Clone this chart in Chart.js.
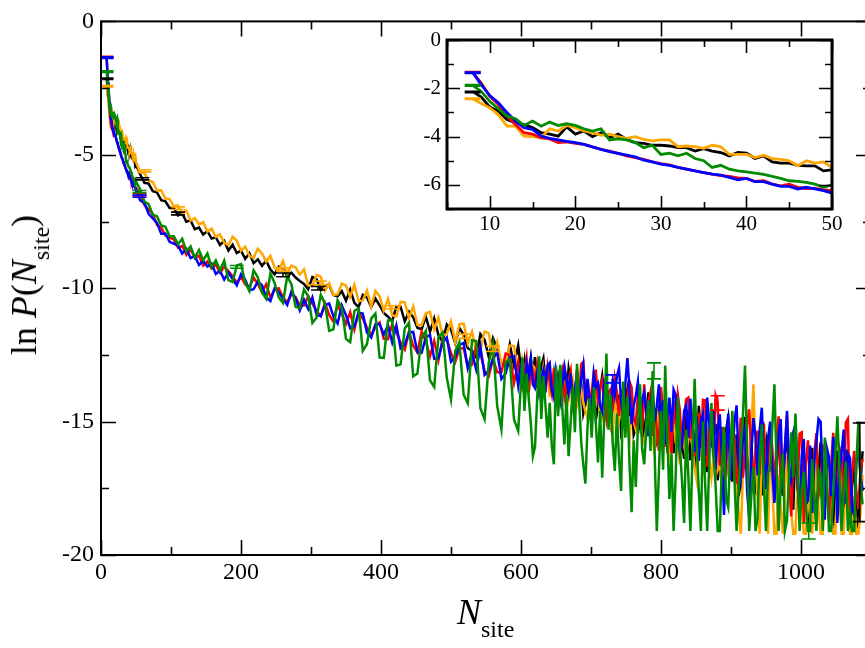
<!DOCTYPE html>
<html><head><meta charset="utf-8">
<script src="https://cdn.jsdelivr.net/npm/chart.js@4.4.0/dist/chart.umd.min.js"></script>
<style>
html,body{margin:0;padding:0;background:#fff;overflow:hidden;width:865px;height:648px;}
#wrap{position:relative;width:865px;height:648px;overflow:hidden;background:#fff;}
#main{position:absolute;left:0;top:0;}
#inset{position:absolute;left:380px;top:20px;}
.lbl{position:absolute;font-family:'Liberation Serif','Times New Roman',serif;font-size:36px;line-height:36px;color:#000;white-space:nowrap;}
.sub{font-size:24px;position:relative;top:13px;}
</style></head>
<body><div id="wrap">
<canvas id="main" width="880" height="648"></canvas>
<canvas id="inset" width="470" height="230"></canvas>
<div class="lbl" id="xt" style="left:457px;top:594px;"><i>N</i><span class="sub">site</span></div>
<div class="lbl" id="yt" style="left:26px;top:285px;transform:translate(-50%,-50%) rotate(-90deg);">ln <i>P</i>(<i>N</i><span class="sub">site</span>)</div>
</div>
<script>
// ---- data: N_site values and ln P(N_site) for each series ----
const nVals = [
8,9,10,11,12,13,14,15,16,17,18,19,20,21,22,23,24,25,26,27,28,29,30,31,32,33,34,35,36,37,38,39,40,41,42,43,44,45,46,47,48,49,50,
56,62,68,74,80,86,92,98,104,110,
116,122,128,134,140,146,152,158,164,170,
176,182,188,194,200,206,212,218,224,230,
236,242,248,254,260,266,272,278,284,290,
296,302,308,314,320,326,332,338,344,350,
356,362,368,374,380,386,392,398,404,410,
416,422,428,434,440,446,452,458,464,470,
476,482,488,494,500,506,512,518,524,530,
536,542,548,554,560,566,572,578,584,590,
596,599,602,605,608,611,614,617,620,623,626,629,632,635,638,641,644,647,650,653,
656,659,662,665,668,671,674,677,680,683,686,689,692,695,698,701,704,707,710,713,
716,719,722,725,728,731,734,737,740,743,746,749,752,755,758,761,764,767,770,773,
776,779,782,785,788,791,794,797,800,803,806,809,812,815,818,821,824,827,830,833,
836,839,842,845,848,851,854,857,860,863,866,869,872,875,878,881,884,887,890,893,
896,899,902,905,908,911,914,917,920,923,926,929,932,935,938,941,944,947,950,953,
956,959,962,965,968,971,974,977,980,983,986,989,992,995,998,1001,1004,1007,1010,1013,
1016,1019,1022,1025,1028,1031,1034,1037,1040,1043,1046,1049,1052,1055,1058,1061,1064,1067,1070,1073,
1076,1079,1082,1085,1088];

const redVals = [
-1.34,-1.78,-2.33,-2.67,-3.15,-3.5,-3.84,-3.9,-4.05,-4.1,
-4.25,-4.22,-4.28,-4.32,-4.43,-4.53,-4.6,-4.7,-4.8,-4.87,
-4.94,-5.05,-5.12,-5.17,-5.28,-5.35,-5.42,-5.49,-5.56,-5.62,
-5.65,-5.71,-5.73,-5.86,-5.83,-5.97,-6.04,-5.97,-6.1,-6.15,
-6.15,-6.2,-6.24,
-6.47,-6.88,-7.05,-7.22,-7.63,-7.72,-8.03,-8.1,-8.17,-8.48,
-8.41,-8.75,-8.55,-8.86,-8.78,-9.15,-9.0,-9.26,-9.1,-9.42,
-9.2,-9.36,-9.55,-9.8,-9.57,-9.86,-9.97,-9.6,-9.84,-10.15,
-9.85,-10.35,-10.05,-10.0,-10.35,-10.53,-10.23,-10.33,-10.65,-10.65,
-10.3,-10.58,-10.86,-11.05,-10.56,-11.0,-11.25,-10.63,-10.96,-11.34,
-10.9,-11.55,-10.9,-11.14,-11.48,-11.77,-11.43,-11.29,-11.9,-11.91,
-11.35,-11.65,-12.04,-12.3,-11.63,-12.16,-12.41,-11.64,-11.98,-12.55,
-11.98,-12.7,-11.9,-11.9,-12.44,-12.76,-12.27,-12.24,-12.95,-12.87,
-12.15,-12.45,-13.1,-13.3,-12.65,-13.15,-13.15,-12.45,-12.5,-13.55,
-12.77,-13.4,-13.7,-13.2,-12.65,-13.9,-12.86,-13.1,-13.53,-12.9,-13.8,-13.3,-13.13,-13.9,-12.96,-13.5,-13.95,-13.0,-13.67,-14.1,
-13.22,-13.0,-14.06,-13.6,-13.45,-13.1,-14.35,-14.0,-13.18,-14.3,-12.84,-12.76,-14.19,-13.5,-14.44,-13.9,-13.12,-13.1,-14.34,-13.7,
-13.44,-14.2,-14.85,-13.9,-13.78,-14.6,-13.4,-13.9,-14.79,-13.8,-14.73,-15.2,-14.14,-13.5,-13.71,-14.9,-15.1,-14.0,-14.72,-15.3,
-13.6,-14.9,-14.3,-13.9,-15.55,-14.5,-15.25,-16.1,-13.7,-14.8,-15.95,-14.4,-15.35,-16.2,-14.2,-15.1,-14.0,-14.6,-15.95,-14.9,
-14.16,-14.1,-15.65,-15.0,-16.3,-15.4,-14.67,-16.0,-14.18,-14.2,-16.69,-15.3,-14.94,-16.2,-14.03,-14.3,-16.65,-15.2,-16.22,-17.0,
-14.85,-15.6,-16.72,-15.5,-17.33,-16.0,-14.86,-17.1,-16.17,-15.1,-14.54,-16.4,-17.25,-16.1,-15.34,-17.0,-14.97,-15.1,-17.26,-16.3,
-15.15,-16.0,-17.6,-15.7,-14.8,-17.2,-16.8,-15.9,-14.75,-17.0,-18.55,-16.4,-15.85,-17.6,-15.45,-15.4,-18.8,-16.6,-15.7,-17.3,
-18.1,-16.2,-15.43,-17.8,-17.4,-15.9,-15.96,-17.5,-18.73,-16.7,-15.42,-17.3,-17.71,-16.0,-16.32,-18.2,-15.04,-14.9,-18.77,-16.9,
-16.1,-17.6,-18.25,-16.8,-16.4];

const blueVals = [
-1.34,-1.85,-2.3,-2.6,-3.0,-3.36,-3.63,-3.7,-3.98,-4.07,
-4.14,-4.2,-4.25,-4.32,-4.43,-4.53,-4.62,-4.7,-4.77,-4.84,
-4.98,-5.05,-5.14,-5.19,-5.28,-5.35,-5.42,-5.49,-5.56,-5.6,
-5.69,-5.79,-5.73,-5.87,-5.87,-5.97,-6.06,-6.06,-6.17,-6.1,
-6.17,-6.24,-6.34,
-6.71,-6.8,-7.21,-7.38,-7.55,-7.96,-7.95,-8.26,-8.33,-8.4,
-8.7,-8.53,-8.87,-8.8,-9.13,-8.98,-9.19,-9.08,-9.47,-9.34,
-9.68,-9.41,-9.66,-9.89,-9.48,-9.68,-10.08,-10.04,-9.75,-9.89,
-10.35,-10.48,-10.0,-10.15,-10.4,-10.63,-10.13,-10.38,-10.83,-10.43,
-10.78,-10.35,-11.0,-11.04,-10.63,-10.58,-11.05,-11.32,-10.65,-11.01,
-11.5,-11.43,-10.92,-10.95,-11.67,-11.85,-11.35,-11.34,-11.74,-11.39,
-12.03,-11.4,-12.25,-12.11,-11.66,-11.64,-12.4,-12.42,-11.85,-11.75,
-12.65,-12.62,-12.03,-11.85,-12.76,-12.59,-12.13,-12.05,-13.0,-12.42,
-13.05,-12.2,-13.25,-13.1,-12.65,-12.4,-13.4,-13.2,-12.6,-12.55,
-13.65,-13.0,-13.48,-13.9,-12.82,-13.3,-12.7,-13.6,-13.74,-13.2,-13.9,-13.4,-13.08,-13.7,-12.9,-12.8,-13.78,-14.1,-13.06,-13.5,
-14.14,-13.6,-12.95,-13.4,-13.91,-13.2,-14.35,-13.7,-13.25,-14.0,-13.43,-12.9,-14.26,-13.4,-14.23,-14.6,-13.2,-13.7,-13.56,-14.4,
-14.64,-13.5,-13.65,-14.3,-14.9,-13.4,-13.99,-13.3,-13.0,-14.2,-14.97,-13.6,-12.62,-13.8,-15.1,-14.4,-14.03,-13.5,-14.96,-14.2,
-13.9,-14.6,-15.55,-14.3,-13.8,-15.0,-14.4,-13.6,-15.15,-14.2,-15.85,-14.8,-14.1,-15.4,-13.8,-14.0,-15.45,-16.2,-15.85,-14.6,
-14.4,-15.6,-14.14,-15.2,-16.13,-14.8,-16.47,-15.0,-14.72,-16.3,-14.1,-15.1,-15.97,-14.6,-16.79,-15.3,-14.73,-16.4,-18.5,-16.0,
-14.71,-17.2,-16.3,-15.0,-14.39,-16.6,-17.1,-15.4,-15.19,-17.6,-18.6,-16.2,-14.87,-15.5,-17.02,-15.3,-14.48,-16.5,-17.54,-15.6,
-15.0,-16.8,-18.05,-16.4,-15.55,-14.9,-17.55,-16.1,-14.6,-16.9,-17.2,-15.4,-15.1,-17.0,-18.75,-16.3,-15.65,-18.1,-17.95,-15.9,
-18.42,-16.5,-15.75,-14.9,-15.0,-17.1,-18.68,-16.0,-16.33,-17.8,-15.58,-16.4,-18.8,-16.9,-16.16,-15.3,-18.08,-16.2,-16.37,-18.3,
-18.5,-16.6,-15.9,-17.0,-17.6];

const greenVals = [
-1.88,-2.13,-2.54,-2.85,-3.15,-3.26,-3.54,-3.36,-3.57,-3.4,
-3.54,-3.47,-3.54,-3.68,-3.77,-3.68,-4.14,-4.09,-4.14,-4.25,
-4.46,-4.36,-4.74,-4.69,-4.8,-4.69,-4.91,-5.0,-5.28,-5.19,
-5.35,-5.42,-5.46,-5.51,-5.57,-5.65,-5.73,-5.83,-5.86,-5.9,
-5.97,-6.1,-6.0,
-6.3,-6.75,-6.85,-7.25,-7.3,-7.65,-7.7,-8.05,-8.05,-8.35,
-8.15,-8.61,-8.43,-8.85,-8.57,-8.95,-8.7,-9.2,-8.96,-9.33,
-8.97,-9.7,-9.77,-9.15,-9.1,-9.79,-10.1,-9.33,-9.59,-10.16,
-10.4,-9.45,-9.8,-10.35,-10.55,-9.55,-9.85,-10.7,-10.75,-10.05,
-10.3,-11.3,-11.1,-10.25,-10.59,-11.6,-11.54,-10.45,-10.75,-11.9,
-12.02,-10.85,-10.75,-12.35,-12.09,-11.14,-10.95,-12.6,-12.61,-11.21,
-11.2,-12.9,-12.85,-11.5,-11.3,-13.3,-13.2,-11.85,-11.6,-13.45,
-13.7,-11.84,-11.66,-13.36,-14.17,-12.36,-12.02,-13.99,-14.31,-11.95,
-11.98,-14.5,-14.91,-12.78,-12.1,-14.41,-15.29,-12.77,-12.66,-14.92,
-15.35,-14.0,-12.6,-14.6,-13.2,-14.1,-15.05,-16.3,-15.95,-14.2,-12.55,-14.9,-13.3,-14.4,-15.6,-14.3,-15.9,-16.6,-12.95,-14.8,
-12.87,-14.5,-15.86,-14.0,-16.3,-15.0,-13.7,-15.4,-12.83,-14.2,-15.77,-16.6,-17.32,-15.2,-14.12,-15.6,-13.71,-15.1,-16.53,-14.6,
-17.1,-14.8,-12.45,-15.3,-14.0,-15.8,-16.85,-14.7,-16.4,-17.6,-13.5,-15.6,-14.05,-16.6,-18.4,-15.7,-17.45,-15.2,-13.6,-16.0,
-16.6,-15.3,-14.2,-16.1,-13.1,-16.3,-19.1,-16.9,-14.6,-16.8,-12.9,-15.5,-17.9,-16.2,-19.1,-17.0,-14.1,-16.0,-17.2,-18.8,
-15.3,-17.0,-19.1,-16.2,-13.4,-15.8,-17.6,-19.1,-15.0,-17.3,-19.1,-16.4,-14.3,-16.2,-17.4,-19.1,-19.1,-16.6,-15.2,-17.9,
-18.2,-16.1,-14.6,-17.2,-19.1,-17.5,-16.0,-14.8,-12.9,-15.9,-19.1,-17.8,-16.7,-19.1,-18.6,-16.3,-15.1,-17.4,-19.1,-16.9,
-16.8,-15.2,-13.6,-16.5,-19.1,-17.3,-16.2,-19.1,-18.7,-16.9,-15.4,-17.1,-14.7,-16.6,-19.1,-17.5,-16.9,-18.2,-19.1,-19.1,
-16.4,-17.9,-19.1,-16.8,-17.0,-19.1,-15.6,-17.2,-19.1,-19.1,-17.8,-16.3,-14.8,-16.9,-19.1,-17.7,-16.5,-19.1,-18.4,-19.1,
-19.1,-16.6,-15.0,-17.3,-18.1];

const blackVals = [
-2.13,-2.36,-2.77,-2.95,-3.29,-3.43,-3.5,-3.63,-3.84,-3.9,
-3.98,-3.6,-3.9,-3.77,-4.0,-3.84,-4.05,-3.9,-4.12,-4.25,
-4.28,-4.36,-4.36,-4.39,-4.46,-4.46,-4.6,-4.5,-4.6,-4.66,
-4.8,-4.66,-4.69,-4.91,-4.8,-5.05,-5.1,-5.1,-5.19,-5.21,
-5.21,-5.42,-5.38,
-5.73,-6.05,-6.08,-6.36,-6.41,-6.7,-6.74,-6.99,-6.99,-7.27,
-7.2,-7.51,-7.46,-7.79,-7.73,-7.99,-7.86,-8.14,-8.09,-8.38,
-8.23,-8.59,-8.37,-8.68,-8.59,-8.9,-8.69,-9.06,-8.92,-9.16,
-8.97,-9.3,-9.48,-9.19,-9.27,-9.55,-9.42,-9.6,-9.73,-9.84,
-10.04,-9.58,-9.66,-10.07,-9.89,-9.88,-10.25,-10.3,-10.11,-10.47,
-10.05,-10.55,-10.71,-10.25,-10.35,-10.71,-10.39,-10.64,-10.93,-11.07,
-11.24,-10.67,-10.7,-11.24,-10.88,-11.09,-11.48,-11.54,-11.06,-11.63,
-11.13,-11.75,-12.01,-11.36,-11.55,-12.06,-11.49,-11.75,-12.25,-12.34,
-12.59,-11.72,-11.93,-12.58,-11.87,-12.26,-12.83,-12.91,-12.11,-12.89,
-12.15,-12.8,-13.22,-12.7,-13.49,-13.1,-12.59,-13.3,-12.58,-13.6,-13.43,-12.9,-12.63,-13.5,-13.01,-13.7,-13.81,-13.2,-13.92,-13.4,
-14.2,-13.6,-13.05,-14.0,-13.02,-13.5,-13.99,-14.4,-13.07,-13.8,-13.57,-14.7,-14.36,-13.6,-14.53,-14.1,-13.55,-14.9,-14.46,-13.8,
-13.3,-14.2,-14.79,-14.3,-15.06,-14.5,-13.72,-14.6,-14.0,-15.4,-15.09,-14.2,-13.79,-14.8,-14.14,-15.5,-15.28,-14.6,-15.16,-14.3,
-15.75,-14.8,-13.9,-15.0,-14.3,-16.0,-15.76,-14.6,-13.92,-15.2,-14.33,-15.9,-15.57,-14.8,-16.18,-15.2,-14.74,-15.7,-15.8,-16.4,
-14.53,-15.6,-16.45,-15.3,-16.34,-17.0,-14.41,-15.5,-14.97,-16.2,-16.89,-15.4,-14.53,-16.6,-15.08,-17.2,-16.45,-15.7,-16.9,-15.3,
-14.86,-16.3,-17.25,-16.0,-15.48,-17.8,-17.23,-16.1,-14.82,-16.5,-16.95,-15.7,-17.4,-17.6,-15.37,-16.4,-17.77,-16.2,-15.75,-17.3,
-15.24,-16.6,-17.95,-16.3,-15.76,-17.0,-17.78,-16.4,-15.32,-16.8,-17.61,-18.3,-15.85,-17.1,-18.49,-16.9,-16.24,-17.5,-18.82,-17.2,
-15.98,-17.4,-18.54,-16.9,-15.78,-17.6,-18.06,-16.5,-16.56,-18.0,-18.98,-17.3,-16.09,-17.8,-18.52,-16.8,-16.05,-17.9,-19.04,-17.4,
-16.57,-18.2,-19.0,-17.3,-16.11];

const orangeVals = [
-2.43,-2.63,-2.81,-3.09,-3.57,-3.57,-3.98,-4.0,-4.05,-3.68,
-3.77,-3.54,-3.63,-3.77,-3.84,-3.95,-3.9,-4.0,-4.07,-4.0,
-4.12,-4.18,-4.14,-4.14,-4.42,-4.39,-4.42,-4.49,-4.36,-4.42,
-4.74,-4.74,-4.74,-4.87,-4.77,-4.91,-4.94,-5.0,-5.21,-5.0,
-5.1,-5.05,-5.28,
-5.66,-5.68,-5.97,-6.02,-6.34,-6.33,-6.64,-6.66,-6.92,-6.9,
-7.2,-7.09,-7.47,-7.37,-7.61,-7.53,-7.88,-7.77,-8.08,-7.98,
-8.3,-8.39,-8.07,-8.21,-8.6,-8.44,-8.79,-8.86,-8.52,-8.7,
-9.01,-8.79,-9.22,-9.34,-8.98,-9.48,-9.15,-9.22,-9.49,-9.3,
-9.89,-9.91,-9.5,-9.57,-10.1,-9.82,-10.25,-10.23,-9.82,-9.9,
-10.32,-9.87,-10.48,-10.46,-10.09,-10.69,-10.1,-10.3,-10.84,-10.4,
-11.01,-11.06,-10.51,-10.53,-11.12,-10.68,-11.37,-11.39,-10.94,-10.89,
-11.55,-11.1,-11.78,-11.71,-11.25,-12.02,-11.35,-11.32,-12.06,-11.63,
-12.35,-12.33,-11.62,-11.69,-12.63,-12.03,-12.83,-12.77,-12.15,-12.17,
-13.18,-13.6,-12.7,-13.1,-13.46,-13.9,-13.44,-12.9,-13.0,-13.5,-13.78,-14.1,-13.05,-13.6,-13.3,-14.0,-13.88,-13.5,-13.3,-14.2,
-14.25,-13.8,-13.6,-14.5,-14.22,-13.9,-13.5,-14.6,-14.42,-14.0,-13.8,-14.3,-14.61,-14.9,-13.9,-14.5,-14.43,-14.0,-13.9,-14.8,
-14.91,-14.5,-14.0,-14.7,-15.12,-15.5,-14.2,-14.6,-14.97,-14.5,-14.3,-15.2,-15.36,-15.7,-14.5,-15.0,-15.3,-14.8,-14.4,-15.6,
-15.8,-15.2,-14.6,-15.5,-15.7,-16.2,-14.5,-15.3,-15.49,-16.0,-14.9,-15.6,-16.16,-15.4,-14.9,-15.8,-15.95,-16.6,-15.1,-15.9,
-16.34,-15.6,-15.0,-16.0,-16.72,-17.2,-15.3,-16.2,-16.71,-15.8,-15.2,-16.5,-17.09,-16.3,-15.5,-16.8,-16.56,-17.4,-15.4,-16.6,
-17.0,-16.2,-15.2,-16.8,-17.6,-18.4,-19.2,-17.0,-15.8,-16.9,-17.2,-15.4,-13.6,-16.2,-17.9,-19.2,-15.9,-17.1,-18.3,-19.2,
-15.7,-17.4,-19.2,-19.2,-17.0,-18.2,-19.2,-17.6,-16.2,-17.7,-18.4,-19.2,-19.2,-17.3,-16.6,-18.1,-19.2,-19.2,-17.5,-18.6,
-19.2,-17.9,-16.4,-18.3,-19.2,-19.2,-18.1,-17.2,-16.8,-18.5,-19.2,-19.2,-17.3,-18.0,-19.2,-19.2,-16.9,-18.2,-19.2,-19.2,
-17.8,-19.2,-19.2,-18.4,-17.0];

// error bars: N, centre, half-length
const redErrN = [8, 55, 881];
const redErrY = [-1.34, -6.5, -14.3];
const redErrD = [0.03, 0.04, 0.27];
const blueErrN = [8, 55, 731];
const blueErrY = [-1.36, -6.55, -13.4];
const blueErrD = [0.03, 0.04, 0.15];
const greenErrN = [8, 55, 194, 790, 1011];
const greenErrY = [-1.88, -6.38, -9.2, -13.1, -19.1];
const greenErrD = [0.03, 0.04, 0.05, 0.3, 0.3];
const blackErrN = [8, 59, 110, 260, 310, 1084];
const blackErrY = [-2.15, -5.9, -7.2, -9.5, -10.0, -16.9];
const blackErrD = [0.03, 0.04, 0.05, 0.07, 0.07, 1.85];
const orangeErrN = [8, 62, 110, 260, 313, 416, 517, 560];
const orangeErrY = [-2.43, -5.6, -7.0, -9.3, -9.8, -10.72, -11.8, -12.27];
const orangeErrD = [0.03, 0.04, 0.05, 0.06, 0.07, 0.06, 0.08, 0.1];

const COL = {red:'#ff0000', blue:'#0000ff', green:'#008b00', black:'#000000', orange:'#ffa500'};

// drawing order: first listed = drawn on top
const seriesList = [
  {name:'green', vals:greenVals, color:COL.green},
  {name:'blue', vals:blueVals, color:COL.blue},
  {name:'red', vals:redVals, color:COL.red},
  {name:'orange', vals:orangeVals, color:COL.orange},
  {name:'black', vals:blackVals, color:COL.black}
];
const errSets = [
  {color:COL.black, n:blackErrN, y:blackErrY, d:blackErrD},
  {color:COL.orange, n:orangeErrN, y:orangeErrY, d:orangeErrD},
  {color:COL.red, n:redErrN, y:redErrY, d:redErrD},
  {color:COL.blue, n:blueErrN, y:blueErrY, d:blueErrD},
  {color:COL.green, n:greenErrN, y:greenErrY, d:greenErrD}
];

const FONT = "'Liberation Serif','Times New Roman',serif";
Chart.defaults.font.family = FONT;
Chart.defaults.color = '#000';

function datasets(lw, clip) {
  return seriesList.map(s => ({
    label: s.name,
    data: nVals.map((n, i) => ({x: n, y: s.vals[i]})).filter(p => p.y !== undefined),
    borderColor: s.color, backgroundColor: s.color,
    borderWidth: lw, pointRadius: 0, pointHoverRadius: 0,
    fill: false, tension: 0, clip: clip
  }));
}

const framePlugin = {
  id: 'frameTicks',
  afterDraw(chart, args, o) {
    const {ctx, chartArea: a, scales: {x, y}} = chart;
    ctx.save();
    ctx.strokeStyle = '#000';
    ctx.lineWidth = o.tickW;
    ctx.beginPath();
    const isMajor = (v, step) => Math.abs(v / step - Math.round(v / step)) < 1e-6;
    for (let v = Math.ceil(x.min / o.xMinor) * o.xMinor; v <= x.max + 1e-9; v += o.xMinor) {
      const L = isMajor(v, o.xMajor) ? o.major : o.minor;
      const p = Math.round(x.getPixelForValue(v)) + 0.5;
      ctx.moveTo(p, a.bottom); ctx.lineTo(p, a.bottom - L);
      ctx.moveTo(p, a.top); ctx.lineTo(p, a.top + L);
    }
    for (let v = Math.ceil(y.min / o.yMinor) * o.yMinor; v <= y.max + 1e-9; v += o.yMinor) {
      const L = isMajor(v, o.yMajor) ? o.major : o.minor;
      const p = Math.round(y.getPixelForValue(v)) + 0.5;
      ctx.moveTo(a.left, p); ctx.lineTo(a.left + L, p);
      ctx.moveTo(a.right, p); ctx.lineTo(a.right - L, p);
    }
    ctx.stroke();
    ctx.lineWidth = o.frameW;
    ctx.strokeRect(a.left, a.top, a.right - a.left, a.bottom - a.top);
    ctx.restore();
  }
};

const errPlugin = {
  id: 'errBars',
  afterDatasetsDraw(chart, args, o) {
    const {ctx, chartArea: a, scales: {x, y}} = chart;
    ctx.save();
    ctx.beginPath();
    ctx.rect(a.left, a.top, a.right - a.left, a.bottom - a.top);
    ctx.clip();
    ctx.lineWidth = o.lw;
    errSets.forEach(e => {
      ctx.strokeStyle = e.color;
      ctx.beginPath();
      e.n.forEach((n, i) => {
        const px = x.getPixelForValue(n);
        const pt = y.getPixelForValue(e.y[i] + e.d[i]);
        const pb = y.getPixelForValue(e.y[i] - e.d[i]);
        ctx.moveTo(px, pt); ctx.lineTo(px, pb);
        ctx.moveTo(px - o.cap, pt); ctx.lineTo(px + o.cap, pt);
        ctx.moveTo(px - o.cap, pb); ctx.lineTo(px + o.cap, pb);
      });
      ctx.stroke();
    });
    ctx.restore();
  }
};

const mainXTicks = {min: 0, max: 1100, step: 200};
const mainYTicks = {min: -20, max: 0, step: 5};
const insetXTicks = {min: 5, max: 50, step: 10};
const insetYTicks = {min: -7, max: 0, step: 2};

new Chart(document.getElementById('main'), {
  type: 'line',
  data: {datasets: datasets(2.5, undefined)},
  options: {
    responsive: false, animation: false, events: [],
    layout: {padding: {top: 18, right: 9, left: 0, bottom: 0}},
    plugins: {legend: {display: false}, tooltip: {enabled: false},
      frameTicks: {tickW: 1.6, frameW: 2, major: 15, minor: 8, xMinor: 100, xMajor: 200, yMinor: 2.5, yMajor: 5},
      errBars: {lw: 1.6, cap: 7}},
    scales: {
      x: {type: 'linear', min: mainXTicks.min, max: mainXTicks.max,
        grid: {display: false, drawTicks: false}, border: {display: false},
        ticks: {stepSize: mainXTicks.step, includeBounds: false, autoSkip: false, maxRotation: 0, padding: 3,
          font: {size: 24}, callback: v => (v % 200 === 0 ? String(v) : '')},
        afterFit: s => { s.height = 93; }},
      y: {type: 'linear', min: mainYTicks.min, max: mainYTicks.max,
        grid: {display: false, drawTicks: false}, border: {display: false},
        ticks: {stepSize: mainYTicks.step, includeBounds: false, autoSkip: false, padding: 7,
          font: {size: 24}, callback: v => String(v)},
        afterFit: s => { s.width = 101; }}
    }
  },
  plugins: [errPlugin, framePlugin]
});

new Chart(document.getElementById('inset'), {
  type: 'line',
  data: {datasets: datasets(2.8, 0)},
  options: {
    responsive: false, animation: false, events: [],
    layout: {padding: {top: 20, right: 18, left: 0, bottom: 0}},
    plugins: {legend: {display: false}, tooltip: {enabled: false},
      frameTicks: {tickW: 1.6, frameW: 3, major: 13, minor: 7, xMinor: 5, xMajor: 10, yMinor: 1, yMajor: 2},
      errBars: {lw: 1.6, cap: 8}},
    scales: {
      x: {type: 'linear', min: insetXTicks.min, max: insetXTicks.max,
        grid: {display: false, drawTicks: false}, border: {display: false},
        ticks: {stepSize: insetXTicks.step, includeBounds: false, autoSkip: false, maxRotation: 0, padding: 3,
          font: {size: 21}, callback: v => (v % 10 === 0 ? String(v) : '')},
        afterFit: s => { s.height = 41; }},
      y: {type: 'linear', min: insetYTicks.min, max: insetYTicks.max,
        grid: {display: false, drawTicks: false}, border: {display: false},
        ticks: {stepSize: insetYTicks.step, includeBounds: false, autoSkip: false, padding: 6,
          font: {size: 21}, callback: v => String(v)},
        afterFit: s => { s.width = 67; }}
    }
  },
  plugins: [errPlugin, framePlugin]
});
</script>
</body></html>
